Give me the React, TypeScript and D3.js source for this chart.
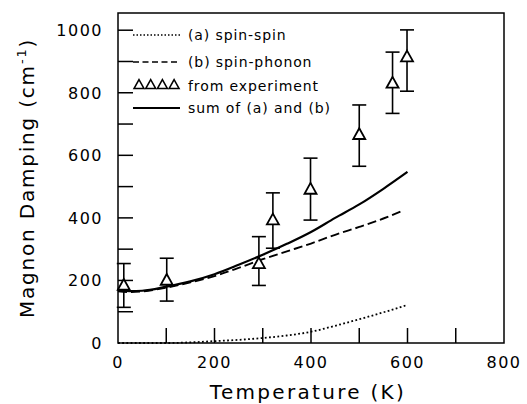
import React from "react";
import * as d3 from "d3";

const xTickLabels = [0, 200, 400, 600, 800];
const yTickLabels = [0, 200, 400, 600, 800, 1000];
const xMinorTicks = [100, 200, 300, 400, 500, 600, 700];
const yMinorTicks = [100, 200, 300, 400, 500, 600, 700, 800, 900, 1000];

// (a) spin-spin
const spinSpinT = [0, 100, 150, 200, 250, 300, 350, 400, 450, 500, 550, 600];
const spinSpinV = [0, 0, 2, 6, 10, 16, 24, 36, 55, 76, 98, 122];
// (b) spin-phonon
const spinPhononT = [0, 25, 50, 100, 150, 200, 250, 300, 350, 400, 450, 500, 550, 592];
const spinPhononV = [165, 163, 165, 177, 194, 214, 240, 268, 293, 318, 346, 371, 398, 424];
// sum of (a) and (b)
const sumT = [0, 25, 50, 100, 150, 200, 250, 300, 350, 400, 450, 500, 550, 600];
const sumV = [168, 166, 167, 180, 197, 220, 250, 282, 317, 355, 400, 443, 493, 547];
// experiment
const expT = [12, 101, 292, 321, 399, 500, 569, 599];
const expV = [184, 200, 253, 393, 491, 666, 830, 914];
const expHi = [254, 271, 340, 480, 591, 761, 930, 1001];
const expLo = [114, 134, 184, 303, 393, 565, 734, 805];

const legendItems = ["(a) spin-spin", "(b) spin-phonon", "from experiment", "sum of (a) and (b)"];

const W = 527;
const H = 404;
const L = 118, R = 504, T = 13, B = 343;
const FONT = "DejaVu Sans";

export default function App() {
  const x = d3.scaleLinear().domain([0, 800]).range([L, R]);
  const y = d3.scaleLinear().domain([0, 1055]).range([B, T]);
  const line = (ts: number[], vs: number[]) =>
    d3
      .line<number>()
      .x((_, i) => x(ts[i]))
      .y((v) => y(v))
      .curve(d3.curveMonotoneX)(vs) || "";

  const tri = (cx: number, cy: number, s: number) => {
    const h = s * 0.9;
    return `M${cx},${cy - h * 0.6} L${cx + s / 2},${cy + h * 0.4} L${cx - s / 2},${cy + h * 0.4} Z`;
  };

  const legendY = [35, 62, 86, 108];
  const lx0 = 133, lx1 = 180, ltx = 188;

  return (
    <svg
      width={W}
      height={H}
      style={{ position: "absolute", left: 0, top: 0, background: "#fff" }}
      fontFamily={FONT}
    >
      <rect x={0} y={0} width={W} height={H} fill="#fff" />
      {/* frame */}
      <rect x={L} y={T} width={R - L} height={B - T} fill="none" stroke="#000" strokeWidth={1.5} />
      {/* ticks */}
      {xMinorTicks.map((t) => (
        <line key={"xt" + t} x1={x(t)} x2={x(t)} y1={B} y2={B - 15} stroke="#000" strokeWidth={1.5} />
      ))}
      {yMinorTicks.map((t) => (
        <line key={"yt" + t} x1={L} x2={L + 15} y1={y(t)} y2={y(t)} stroke="#000" strokeWidth={1.5} />
      ))}
      {xTickLabels.map((t) => (
        <text key={"xl" + t} x={x(t)} y={368} fontSize={16} textAnchor="middle" letterSpacing={1.5}>
          {t}
        </text>
      ))}
      {yTickLabels.map((t) => (
        <text key={"yl" + t} x={103} y={y(t) + 6} fontSize={16} textAnchor="end" letterSpacing={1.5}>
          {t}
        </text>
      ))}
      <text x={308} y={399} fontSize={20} textAnchor="middle" letterSpacing={2.3}>
        Temperature (K)
      </text>
      <text
        transform={`translate(34,${178}) rotate(-90)`}
        fontSize={20}
        textAnchor="middle"
        letterSpacing={1.8}
      >
        Magnon Damping (cm
        <tspan dy={-8} fontSize={13}>-1</tspan>
        <tspan dy={8}>)</tspan>
      </text>

      {/* curves */}
      <path d={line(spinSpinT, spinSpinV)} fill="none" stroke="#000" strokeWidth={1.8} strokeDasharray="1.8,2.4" />
      <path d={line(spinPhononT, spinPhononV)} fill="none" stroke="#000" strokeWidth={1.9} strokeDasharray="9,4" />
      <path d={line(sumT, sumV)} fill="none" stroke="#000" strokeWidth={2.2} />

      {/* experiment */}
      {expT.map((t, i) => {
        const cx = x(t);
        return (
          <g key={"e" + i} stroke="#000" strokeWidth={1.6}>
            <line x1={cx} x2={cx} y1={y(expHi[i])} y2={y(expLo[i])} />
            <line x1={cx - 7} x2={cx + 7} y1={y(expHi[i])} y2={y(expHi[i])} />
            <line x1={cx - 7} x2={cx + 7} y1={y(expLo[i])} y2={y(expLo[i])} />
            <path d={tri(cx, y(expV[i]), 12)} fill="#fff" strokeWidth={1.8} />
          </g>
        );
      })}

      {/* legend */}
      <line x1={lx0} x2={lx1} y1={legendY[0]} y2={legendY[0]} stroke="#000" strokeWidth={1.5} strokeDasharray="1.5,2" />
      <line x1={lx0} x2={lx1} y1={legendY[1]} y2={legendY[1]} stroke="#000" strokeWidth={1.7} strokeDasharray="6,3.5" />
      {[0, 1, 2, 3].map((k) => (
        <path key={"lt" + k} d={tri(lx0 + 6 + k * 11.7, legendY[2] - 1, 10)} fill="#fff" stroke="#000" strokeWidth={1.5} />
      ))}
      <line x1={lx0} x2={lx1} y1={legendY[3]} y2={legendY[3]} stroke="#000" strokeWidth={1.9} />
      {legendItems.map((s, i) => (
        <text key={"lg" + i} x={ltx} y={legendY[i] + 5} fontSize={14} letterSpacing={0.9}>
          {s}
        </text>
      ))}
    </svg>
  );
}
